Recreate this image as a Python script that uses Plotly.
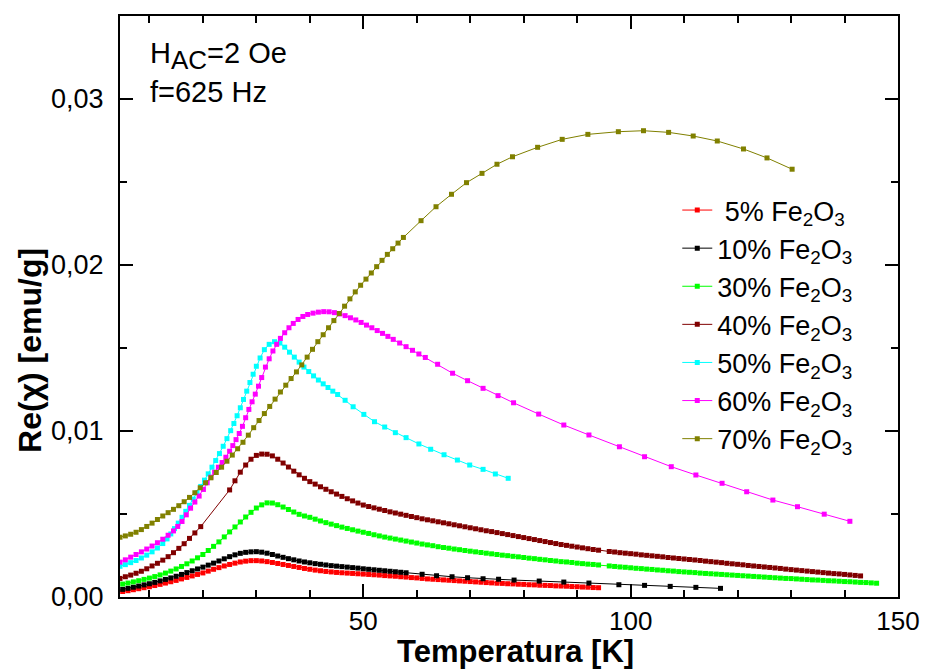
import numpy as np
import plotly.graph_objects as go

# ---------------- data (chi' in units of 1e-3 emu/g) ----------------
T_5 = [5, 6, 7, 8, 9, 10, 11, 12, 13, 14, 15, 16, 17, 18, 19, 20, 21, 22, 23, 24, 25, 26, 27, 28, 29, 30,
       31, 32, 33, 34, 35, 36, 37, 38, 39, 40, 41, 42, 43, 44, 45, 46, 47, 48, 49, 50, 51, 52, 53, 54, 55,
       56, 57, 58, 59, 60, 61, 62, 63, 64, 65, 66, 67, 68, 69, 70, 71, 72, 73, 74, 75, 76, 77, 78, 79, 80,
       81, 82, 83, 84, 85, 86, 87, 88, 89, 90, 91, 92, 93, 94]
V_5 = [0.33, 0.38, 0.44, 0.50, 0.56, 0.62, 0.69, 0.76, 0.84, 0.92, 1.00, 1.09, 1.18, 1.27, 1.36, 1.45,
       1.56, 1.67, 1.77, 1.87, 1.96, 2.04, 2.11, 2.16, 2.19, 2.19, 2.17, 2.13, 2.08, 2.02, 1.96, 1.90,
       1.84, 1.78, 1.72, 1.67, 1.62, 1.58, 1.54, 1.51, 1.48, 1.46, 1.44, 1.42, 1.40, 1.38, 1.36, 1.34,
       1.32, 1.29, 1.27, 1.25, 1.22, 1.20, 1.17, 1.15, 1.12, 1.09, 1.07, 1.05, 1.03, 1.01, 0.99, 0.97,
       0.95, 0.93, 0.91, 0.89, 0.87, 0.85, 0.83, 0.82, 0.80, 0.79, 0.77, 0.76, 0.74, 0.73, 0.71, 0.70,
       0.69, 0.67, 0.66, 0.65, 0.63, 0.62, 0.60, 0.59, 0.57, 0.56]

T_10 = [5, 6, 7, 8, 9, 10, 11, 12, 13, 14, 15, 16, 17, 18, 19, 20, 21, 22, 23, 24, 25, 26, 27, 28, 29, 30,
        31, 32, 33, 34, 35, 36, 37, 38, 39, 40, 41, 42, 43, 44, 45, 46, 47, 48, 49, 50, 51, 52, 53, 54, 55,
        56, 57, 58, 61.0, 63.7, 66.6, 69.5, 72.4, 75.3, 78.2, 82.9, 87.5, 92.2, 97.8, 102.6, 107.4, 112.2,
        116.8]
V_10 = [0.46, 0.52, 0.59, 0.66, 0.73, 0.80, 0.88, 0.97, 1.06, 1.15, 1.25, 1.36, 1.47, 1.58, 1.69, 1.80,
        1.92, 2.04, 2.17, 2.30, 2.43, 2.54, 2.63, 2.69, 2.72, 2.73, 2.70, 2.64, 2.56, 2.47, 2.39, 2.31,
        2.24, 2.17, 2.11, 2.06, 2.01, 1.97, 1.93, 1.89, 1.86, 1.83, 1.80, 1.77, 1.74, 1.70, 1.67, 1.64,
        1.61, 1.58, 1.55, 1.52, 1.49, 1.46, 1.37, 1.28, 1.22, 1.16, 1.10, 1.07, 1.02, 0.96, 0.90, 0.84,
        0.74, 0.70, 0.64, 0.58, 0.52]

T_30 = [5, 6, 7, 8, 9, 10, 11, 12, 13, 14, 15, 16, 17, 18, 19, 20, 21, 22, 23, 24, 25, 26, 27, 28, 29, 30,
        31, 32, 33, 34, 35, 36, 37, 38, 39, 40, 41, 42, 43, 44, 45, 46, 47, 48, 49, 50, 51, 52, 53, 54, 55,
        56, 57, 58, 59, 60, 61, 62, 63, 64, 65, 66, 67, 68, 69, 70, 71, 72, 73, 74, 75, 76, 77, 78, 79, 80,
        81, 82, 83, 84, 85, 86, 87, 88, 89, 90, 91, 92, 93, 94, 96, 97, 98, 99, 100, 101, 102, 103, 104,
        105, 106, 107, 108, 109, 110, 111, 112, 113, 114, 115, 116, 117, 118, 119, 120, 121, 122, 123,
        124, 125, 126, 127, 128, 129, 130, 131, 132, 133, 134, 135, 136, 137, 138, 139, 140, 141, 142,
        143, 144, 145, 146]
V_30 = [0.78, 0.84, 0.91, 0.98, 1.06, 1.14, 1.23, 1.33, 1.44, 1.56, 1.69, 1.84, 2.00, 2.17, 2.36, 2.56,
        2.80, 3.05, 3.32, 3.62, 3.92, 4.22, 4.52, 4.82, 5.10, 5.36, 5.55, 5.67, 5.66, 5.56, 5.42, 5.27,
        5.12, 4.98, 4.88, 4.80, 4.69, 4.58, 4.48, 4.39, 4.30, 4.21, 4.13, 4.05, 3.97, 3.90, 3.83, 3.75,
        3.68, 3.61, 3.55, 3.49, 3.43, 3.37, 3.31, 3.25, 3.19, 3.14, 3.09, 3.03, 2.98, 2.94, 2.89, 2.85,
        2.80, 2.76, 2.72, 2.68, 2.64, 2.60, 2.56, 2.52, 2.49, 2.45, 2.42, 2.38, 2.34, 2.31, 2.27, 2.24,
        2.20, 2.17, 2.13, 2.11, 2.08, 2.04, 2.01, 1.98, 1.96, 1.93, 1.87, 1.84, 1.81, 1.79, 1.76, 1.73,
        1.71, 1.68, 1.66, 1.63, 1.61, 1.58, 1.56, 1.53, 1.51, 1.49, 1.47, 1.44, 1.42, 1.40, 1.38, 1.36,
        1.34, 1.32, 1.30, 1.28, 1.26, 1.24, 1.22, 1.20, 1.18, 1.16, 1.14, 1.12, 1.11, 1.09, 1.07, 1.05,
        1.03, 1.02, 1.00, 0.98, 0.97, 0.95, 0.93, 0.92, 0.90, 0.88, 0.87, 0.85, 0.83]

T_40 = [4.5, 5.5, 6.5, 7.5, 8.5, 9.5, 10.5, 11.5, 12.5, 13.5, 14.5, 15.5, 16.5, 17.5, 18.5, 19.6,
        25, 26, 27, 28, 29, 30, 31, 32, 33, 34, 35, 36, 37, 38, 39, 40, 41, 42, 43, 44, 45, 46, 47, 48,
        49, 50, 51, 52, 53, 54, 55, 56, 57, 58, 59, 60, 61, 62, 63, 64, 65, 66, 67, 68, 69, 70, 71, 72,
        73, 74, 75, 76, 77, 78, 79, 80, 81, 82, 83, 84, 85, 86, 87, 88, 89, 90, 91, 92, 93, 94, 96, 97,
        98, 99, 100, 101, 102, 103, 104, 105, 106, 107, 108, 109, 110, 111, 112, 113, 114, 115, 116, 117,
        118, 119, 120, 121, 122, 123, 124, 125, 126, 127, 128, 129, 130, 131, 132, 133, 134, 135, 136,
        137, 138, 139, 140, 141, 142, 143]
V_40 = [1.12, 1.22, 1.32, 1.43, 1.55, 1.70, 1.87, 2.03, 2.22, 2.43, 2.67, 2.93, 3.21, 3.53, 3.86, 4.24,
        6.45, 7.00, 7.52, 7.95, 8.30, 8.53, 8.61, 8.60, 8.50, 8.30, 8.07, 7.83, 7.58, 7.36, 7.15, 6.95,
        6.80, 6.64, 6.49, 6.34, 6.20, 6.06, 5.92, 5.79, 5.66, 5.54, 5.45, 5.37, 5.29, 5.21, 5.13, 5.06,
        4.99, 4.92, 4.85, 4.78, 4.71, 4.65, 4.59, 4.53, 4.47, 4.41, 4.35, 4.29, 4.23, 4.17, 4.11, 4.05,
        3.99, 3.94, 3.88, 3.82, 3.76, 3.70, 3.64, 3.58, 3.52, 3.46, 3.40, 3.34, 3.28, 3.22, 3.16, 3.11,
        3.06, 3.01, 2.96, 2.91, 2.86, 2.82, 2.74, 2.71, 2.67, 2.64, 2.61, 2.58, 2.54, 2.51, 2.48, 2.45,
        2.42, 2.38, 2.35, 2.32, 2.29, 2.26, 2.23, 2.20, 2.16, 2.13, 2.10, 2.07, 2.03, 2.00, 1.97, 1.94,
        1.90, 1.87, 1.84, 1.81, 1.78, 1.75, 1.72, 1.68, 1.65, 1.62, 1.59, 1.56, 1.53, 1.50, 1.47, 1.44,
        1.41, 1.39, 1.36, 1.33, 1.30, 1.27]

T_50 = [4.5, 5.5, 6.5, 7.5, 8.5, 9.5, 10.5, 11.5, 12.5, 13.3, 14.0, 14.7, 15.4, 16.1, 16.8, 17.5, 18.2,
        18.9, 19.6, 20.3, 21.0, 21.7, 22.4, 23.1, 23.8, 24.5, 25.2, 25.8, 26.4, 27.0, 27.6, 28.2, 28.8,
        29.4, 30.0, 30.7, 31.5, 32.4, 33.4, 34.4, 35.3, 36.2, 37.1, 38.0, 38.9, 39.8, 40.7, 41.6, 42.5,
        43.4, 44.3, 45.2, 46.6, 48.1, 50.1, 52.1, 54.0, 56.0, 58.0, 60.4, 62.6, 65.1, 67.6, 69.9, 72.4,
        74.7, 77.1]
V_50 = [1.85, 1.95, 2.07, 2.20, 2.35, 2.52, 2.72, 2.95, 3.22, 3.50, 3.80, 4.12, 4.45, 4.80, 5.16, 5.52,
        5.90, 6.28, 6.66, 7.04, 7.42, 7.82, 8.22, 8.64, 9.08, 9.54, 10.02, 10.45, 10.92, 11.40, 11.90,
        12.40, 12.92, 13.42, 13.90, 14.40, 14.90, 15.22, 15.38, 15.30, 15.05, 14.75, 14.45, 14.15, 13.85,
        13.58, 13.32, 13.07, 12.84, 12.62, 12.40, 12.20, 11.85, 11.46, 11.00, 10.56, 10.24, 9.90, 9.60,
        9.22, 8.90, 8.57, 8.25, 7.95, 7.69, 7.41, 7.15]

T_60 = [4.5, 5.5, 6.5, 7.5, 8.5, 9.5, 10.5, 11.5, 12.5, 13.5, 14.5, 15.3, 16.1, 16.9, 17.7, 18.5, 19.3,
        20.1, 20.8, 21.5, 22.2, 22.9, 23.6, 24.3, 25.0, 25.6, 26.2, 26.8, 27.4, 28.0, 28.6, 29.2, 29.8,
        30.4, 31.0, 31.7, 32.4, 33.1, 33.8, 34.5, 35.3, 36.1, 36.9, 37.8, 38.7, 39.6, 40.6, 41.6, 42.6,
        43.6, 44.6, 45.6, 46.6, 47.6, 48.6, 49.6, 50.6, 51.6, 52.6, 53.6, 54.6, 55.6, 56.8, 58.0, 59.2,
        60.4, 61.6, 63.9, 66.7, 69.5, 72.4, 75.2, 78.1, 82.8, 87.5, 92.2, 97.9, 102.6, 107.6, 112.2,
        117.1, 121.7, 126.6, 131.2, 136.2, 141.0]
V_60 = [2.10, 2.24, 2.40, 2.56, 2.72, 2.89, 3.07, 3.27, 3.48, 3.72, 3.98, 4.25, 4.55, 4.95, 5.35, 5.72,
        6.08, 6.48, 6.88, 7.22, 7.52, 7.82, 8.10, 8.42, 8.78, 9.12, 9.48, 9.85, 10.28, 10.80, 11.30,
        11.76, 12.22, 12.70, 13.22, 13.85, 14.35, 14.82, 15.22, 15.58, 15.92, 16.22, 16.48, 16.72, 16.90,
        17.02, 17.10, 17.16, 17.19, 17.18, 17.13, 17.05, 16.95, 16.82, 16.69, 16.54, 16.38, 16.22, 16.05,
        15.88, 15.70, 15.52, 15.30, 15.08, 14.86, 14.64, 14.43, 14.02, 13.48, 13.03, 12.57, 12.13, 11.70,
        11.02, 10.36, 9.76, 9.05, 8.45, 7.85, 7.35, 6.85, 6.34, 5.84, 5.44, 4.99, 4.56]

T_70 = [4.5, 5.5, 6.5, 7.5, 8.5, 9.5, 10.5, 11.5, 12.5, 13.5, 14.5, 15.5, 16.5, 17.5, 18.5, 19.5, 20.5,
        21.5, 22.5, 23.5, 24.5, 25.5, 26.5, 27.5, 28.5, 29.5, 30.5, 31.5, 32.5, 33.5, 34.5, 35.5, 36.5,
        37.5, 38.5, 39.5, 40.5, 41.5, 42.5, 43.5, 44.5, 45.5, 46.5, 47.5, 48.5, 49.5, 50.5, 51.5, 52.5,
        53.5, 54.5, 55.5, 56.5, 57.5, 60.8, 63.6, 66.5, 69.3, 72.2, 75.0, 77.9, 82.6, 87.2, 92.0, 97.7,
        102.4, 107.1, 111.7, 116.2, 121.1, 125.5, 130.2]
V_70 = [3.60, 3.68, 3.78, 3.90, 4.06, 4.25, 4.45, 4.67, 4.88, 5.08, 5.28, 5.50, 5.74, 6.00, 6.28, 6.58,
        6.88, 7.18, 7.50, 7.82, 8.18, 8.55, 8.93, 9.32, 9.75, 10.20, 10.63, 11.05, 11.48, 11.92, 12.35,
        12.76, 13.16, 13.56, 13.98, 14.45, 14.92, 15.38, 15.80, 16.22, 16.65, 17.08, 17.52, 17.96, 18.38,
        18.78, 19.15, 19.52, 19.90, 20.28, 20.64, 20.98, 21.32, 21.66, 22.67, 23.51, 24.26, 24.96, 25.52,
        26.07, 26.52, 27.09, 27.57, 27.87, 28.03, 28.09, 27.99, 27.77, 27.47, 26.99, 26.45, 25.77]

SERIES = [
    ("\u00a05% Fe<sub>2</sub>O<sub>3</sub>", T_5, V_5, "#ff0000"),
    ("10% Fe<sub>2</sub>O<sub>3</sub>", T_10, V_10, "#000000"),
    ("30% Fe<sub>2</sub>O<sub>3</sub>", T_30, V_30, "#00ff00"),
    ("40% Fe<sub>2</sub>O<sub>3</sub>", T_40, V_40, "#800000"),
    ("50% Fe<sub>2</sub>O<sub>3</sub>", T_50, V_50, "#00ffff"),
    ("60% Fe<sub>2</sub>O<sub>3</sub>", T_60, V_60, "#ff00ff"),
    ("70% Fe<sub>2</sub>O<sub>3</sub>", T_70, V_70, "#808000"),
]

FONT = "Liberation Sans, Arial, sans-serif"

fig = go.Figure()
for name, t, v, col in SERIES:
    fig.add_trace(go.Scatter(
        x=t, y=np.array(v) * 1e-3, name=name, mode="lines+markers",
        line=dict(color=col, width=1),
        marker=dict(symbol="square", size=5, color=col, line=dict(width=0)),
    ))

axis_common = dict(
    showline=True, linecolor="black", linewidth=2, mirror="ticks",
    ticks="inside", ticklen=13, tickwidth=2, tickcolor="black",
    showgrid=False, zeroline=False,
)

fig.update_xaxes(range=[4.5, 150], tick0=0, dtick=50, ticklabelstandoff=0,
                 tickfont=dict(family=FONT, size=26, color="black"),
                 minor=dict(ticks="inside", tick0=0, dtick=10, ticklen=7, tickwidth=2,
                            tickcolor="black", showgrid=False),
                 **axis_common)
fig.update_yaxes(range=[0, 0.035], tick0=0, dtick=0.01, tickformat=".2f", ticklabelstandoff=9,
                 tickfont=dict(family=FONT, size=27, color="black"),
                 minor=dict(ticks="inside", tick0=0, dtick=0.005, ticklen=7, tickwidth=2,
                            tickcolor="black", showgrid=False),
                 **axis_common)

fig.add_annotation(text="H<sub><span style='font-size:26px'>AC</span></sub>=2 Oe",
                   xref="paper", yref="paper",
                   x=(148 - 120) / 786, y=(597 - 56) / 581, xanchor="left", yanchor="middle",
                   showarrow=False, font=dict(family=FONT, size=29, color="black"))
fig.add_annotation(text="f=625 Hz", xref="paper", yref="paper",
                   x=(148 - 120) / 786, y=(597 - 92) / 581, xanchor="left", yanchor="middle",
                   showarrow=False, font=dict(family=FONT, size=29, color="black"))
fig.add_annotation(text="<b>Temperatura [K]</b>", xref="paper", yref="paper",
                   x=(520 - 120) / 786, y=(597 - 651) / 581, xanchor="center", yanchor="middle",
                   showarrow=False, font=dict(family=FONT, size=31, color="black"))
fig.add_annotation(text="<b>Re(χ) [emu/g]</b>", xref="paper", yref="paper", textangle=-90,
                   x=(29 - 120) / 786, y=(597 - 350) / 581, xanchor="center", yanchor="middle",
                   showarrow=False, font=dict(family=FONT, size=32, color="black"))

fig.update_layout(
    width=932, height=669, autosize=False,
    margin=dict(l=120, r=26, t=16, b=72),
    paper_bgcolor="white", plot_bgcolor="white",
    separators=",.",
    showlegend=True,
    legend=dict(x=(683 - 120) / 786, y=(597 - 186) / 581, xanchor="left", yanchor="top",
                bgcolor="rgba(0,0,0,0)", borderwidth=0,
                font=dict(family=FONT, size=27, color="black")),
)

fig.write_html("out.html")
